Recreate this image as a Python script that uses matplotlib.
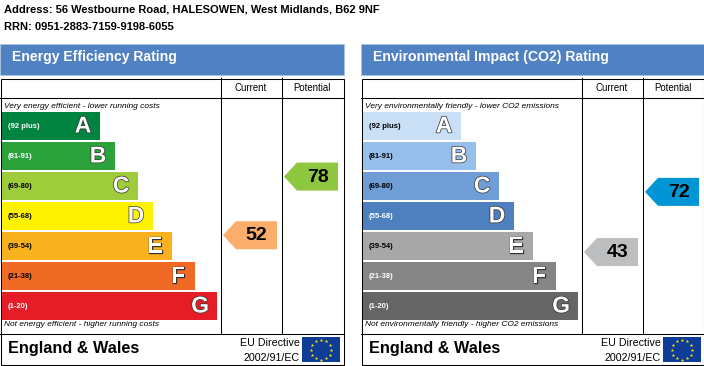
import matplotlib
matplotlib.use('Agg')
import matplotlib.pyplot as plt
import matplotlib.patheffects as pe
from matplotlib.patches import Rectangle, Polygon
import numpy as np

plt.rcParams['font.family'] = ['Liberation Sans', 'DejaVu Sans']

# Data
address = "Address: 56 Westbourne Road, HALESOWEN, West Midlands, B62 9NF"
rrn = "RRN: 0951-2883-7159-9198-6055"
letters = ['A', 'B', 'C', 'D', 'E', 'F', 'G']
bands = ['(92 plus)', '(81-91)', '(69-80)', '(55-68)', '(39-54)', '(21-38)', '(1-20)']
band_high = [100, 91, 80, 68, 54, 38, 20]
band_low = [92, 81, 69, 55, 39, 21, 1]
bar_lengths = [98, 113, 136, 151, 170, 193, 215]

energy_title = 'Energy Efficiency Rating'
energy_top = 'Very energy efficient - lower running costs'
energy_bottom = 'Not energy efficient - higher running costs'
energy_colors = ['#00843f', '#2ba23b', '#9fcc3b', '#fff200', '#f9b21d', '#ef6a25', '#e61d26']
energy_label_colors = ['white', 'white', 'black', 'black', 'black', 'black', 'white']
energy_current = 52
energy_potential = 78
energy_current_color = '#fbae6b'
energy_potential_color = '#8dc63f'

co2_title = 'Environmental Impact (CO2) Rating'
co2_top = 'Very environmentally friendly - lower CO2 emissions'
co2_bottom = 'Not environmentally friendly - higher CO2 emissions'
co2_colors = ['#c9dff5', '#97bfec', '#6f9dd6', '#4e80bf', '#a8a8a8', '#858585', '#666666']
co2_label_colors = ['black', 'black', 'black', 'white', 'black', 'white', 'white']
co2_current = 43
co2_potential = 72
co2_current_color = '#bcbec0'
co2_potential_color = '#0096d6'

fig = plt.figure(figsize=(7.04, 3.66), dpi=100)
ax = fig.add_axes([0, 0, 1, 1])
ax.set_xlim(0, 704)
ax.set_ylim(366, 0)
ax.axis('off')

LINE = 0.75


def band_y(score):
    # arrow tip height, placed inside the row by where the score falls in the band
    for i in range(len(band_low)):
        if score >= band_low[i]:
            frac = (band_high[i] - score) / (band_high[i] - band_low[i])
            return 112 + 30 * i + 28 * frac - 0.5
    return 306


def arrow(x, score, color):
    y = band_y(score)
    pts = [(x, y), (x + 13, y - 14), (x + 54, y - 14), (x + 54, y + 14), (x + 13, y + 14)]
    ax.add_patch(Polygon(pts, closed=True, fc=color, ec='none'))
    ax.text(x + 33.5, y + 0.5, str(score), fontsize=14, fontweight='bold', ha='center', va='center', color='black')


def eu_flag(x0, y0):
    ax.add_patch(Rectangle((x0, y0), 38, 25, fc='#0f3c96', ec='none'))
    angles = np.deg2rad(np.arange(0, 360, 30))
    ax.scatter(x0 + 19 + 10 * np.cos(angles), y0 + 12.5 + 10 * np.sin(angles),
               marker='*', s=7, c='#ffe600', linewidths=0, zorder=3)


def panel(x0, width, title, top, bottom, colors, label_colors, current, potential, cur_color, pot_color):
    x1 = x0 + width
    # header
    ax.add_patch(Rectangle((x0, 44), width, 31, fc='#4f81c3', ec='#a9c3e3', lw=0.6))
    ax.text(x0 + 12, 57, title, fontsize=10.05, fontweight='bold', color='white', va='center', ha='left')

    # table lines
    ax.add_patch(Rectangle((x0 + 0.5, 78.5), width - 1, 286.5, fc='white', ec='black', lw=LINE))
    ax.plot([x0, x1], [97.5, 97.5], color='black', lw=LINE)
    ax.plot([x0, x1], [333.5, 333.5], color='black', lw=LINE)
    ax.plot([x0 + 220.5, x0 + 220.5], [78, 333], color='black', lw=LINE)
    ax.plot([x0 + 281.5, x0 + 281.5], [78, 333], color='black', lw=LINE)
    ax.text(x0 + 251, 88, 'Current', fontsize=6.9, ha='center', va='center')
    ax.text(x0 + 312, 88, 'Potential', fontsize=6.9, ha='center', va='center')

    ax.text(x0 + 4, 106, top, fontsize=6.05, style='italic', ha='left', va='center')
    ax.text(x0 + 4, 324.5, bottom, fontsize=6.05, style='italic', ha='left', va='center')

    for i, letter in enumerate(letters):
        y = 112 + 30 * i
        ax.add_patch(Rectangle((x0 + 2, y), bar_lengths[i], 28, fc=colors[i], ec='none'))
        ax.text(x0 + 8, y + 15, bands[i], fontsize=5.5, fontweight='bold', color=label_colors[i], ha='left', va='center')
        ax.text(x0 + bar_lengths[i] - 15, y + 14, letter, fontsize=16.5, fontweight='bold', color='white',
                ha='center', va='center',
                path_effects=[pe.withStroke(linewidth=1.0, foreground='#333333')])

    arrow(x0 + 223, current, cur_color)
    arrow(x0 + 284, potential, pot_color)

    ax.text(x0 + 8, 348, 'England & Wales', fontsize=11.7, fontweight='bold', ha='left', va='center')
    ax.text(x0 + 300, 343, 'EU Directive', fontsize=7.7, ha='right', va='center')
    ax.text(x0 + 300, 358, '2002/91/EC', fontsize=7.7, ha='right', va='center')
    eu_flag(x0 + 302, 337)


ax.text(4, 9.5, address, fontsize=8.0, fontweight='bold', ha='left', va='center')
ax.text(4, 26.5, rrn, fontsize=8.0, fontweight='bold', ha='left', va='center')

panel(0, 344, energy_title, energy_top, energy_bottom, energy_colors, energy_label_colors,
      energy_current, energy_potential, energy_current_color, energy_potential_color)
panel(361, 343, co2_title, co2_top, co2_bottom, co2_colors, co2_label_colors,
      co2_current, co2_potential, co2_current_color, co2_potential_color)

fig.savefig('out.png', dpi=100)
